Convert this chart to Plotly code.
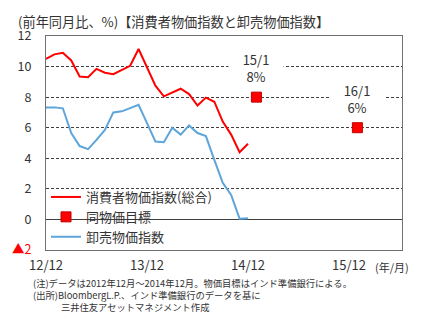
import plotly.graph_objects as go

# months since Dec 2012
months = list(range(0, 25))
cpi = [10.5, 10.8, 10.9, 10.4, 9.35, 9.3, 9.85, 9.6, 9.5, 9.8, 10.05, 11.15,
       10.0, 8.75, 8.05, 8.3, 8.55, 8.2, 7.45, 7.97, 7.7, 6.4, 5.55, 4.4, 4.95]
wpi = [7.33, 7.33, 7.27, 5.65, 4.8, 4.6, 5.2, 5.85, 7.0, 7.07, 7.28, 7.5,
       6.3, 5.1, 5.05, 6.0, 5.55, 6.15, 5.65, 5.45, 3.9, 2.4, 1.6, 0.05, 0.08]
target_x = [25, 37]
target_y = [8, 6]
target_labels = ["15/1<br>8%", "16/1<br>6%"]
xtick_vals = [0, 12, 24, 36]
xtick_text = ["12/12", "13/12", "14/12", "15/12"]
ytick_vals = [-2, 0, 2, 4, 6, 8, 10, 12]
ytick_text = ['<span style="color:#FF0000">▲2</span>', "0", "2", "4", "6", "8", "10", "12"]

FONT = "Noto Sans CJK JP"
W, H = 422, 324
L, R, T, B = 44, 20, 36, 74
PW, PH = W - L - R, H - T - B


def px(x):
    return (x - L) / PW


def py(y):
    return (H - B - y) / PH


fig = go.Figure()
fig.add_trace(go.Scatter(x=months, y=cpi, mode="lines", name="消費者物価指数(総合)",
                         line=dict(color="#FF0000", width=2)))
fig.add_trace(go.Scatter(x=target_x, y=target_y, mode="markers", name="同物価目標",
                         marker=dict(symbol="square", size=10, color="#FF0000",
                                     line=dict(color="#C00000", width=1))))
fig.add_trace(go.Scatter(x=months, y=wpi, mode="lines", name="卸売物価指数",
                         line=dict(color="#5DA5DA", width=2)))

# white legend background covering gridlines
fig.add_shape(type="rect", xref="paper", yref="paper", x0=0, x1=px(217),
              y0=0, y1=py(170), fillcolor="white", line=dict(width=0), layer="between")

# target annotations
for xv, yv, txt in zip(target_x, target_y, target_labels):
    fig.add_annotation(x=xv, y=yv + 1.9, xref="x", yref="y", text=txt, showarrow=False,
                       font=dict(family=FONT, size=13, color="#333333"),
                       bgcolor="white", width=52, height=32, align="center")

# title
fig.add_annotation(x=px(14), y=1 + 15 / PH, xref="paper", yref="paper",
                   text="(前年同月比、%)【消費者物価指数と卸売物価指数】",
                   showarrow=False, xanchor="left", yanchor="middle",
                   font=dict(family=FONT, size=13.2, color="#333333"))
# unit label
fig.add_annotation(x=px(392), y=py(267), xref="paper", yref="paper", text="(年/月)",
                   showarrow=False, xanchor="center", yanchor="middle",
                   font=dict(family=FONT, size=11, color="#333333"))
notes = ("(注)データは2012年12月～2014年12月。物価目標はインド準備銀行による。<br>"
         "(出所)BloombergL.P.、インド準備銀行のデータを基に<br>"
         "　　　三井住友アセットマネジメント作成")
fig.add_annotation(x=px(29), y=py(294.5), xref="paper", yref="paper", text=notes,
                   showarrow=False, xanchor="left", yanchor="middle", align="left",
                   font=dict(family=FONT, size=9.3, color="#333333"))

fig.update_layout(
    width=W, height=H, margin=dict(l=L, r=R, t=T, b=B),
    paper_bgcolor="white", plot_bgcolor="white",
    font=dict(family=FONT, size=12, color="#333333"),
    showlegend=True,
    legend=dict(x=px(44), y=py(182), xanchor="left", yanchor="top",
                bgcolor="rgba(0,0,0,0)", font=dict(family=FONT, size=13, color="#333333"),
                tracegroupgap=0),
    xaxis=dict(range=[0, 42.3], tickvals=xtick_vals, ticktext=xtick_text,
               showgrid=False, zeroline=False, showline=True, mirror=True,
               linecolor="#707070", linewidth=1, ticks="", ticklabelstandoff=3,
               tickfont=dict(family=FONT, size=13, color="#333333")),
    yaxis=dict(range=[-2, 12], tickvals=ytick_vals, ticktext=ytick_text,
               showgrid=True, gridcolor="#404040", griddash="3px,2px", gridwidth=1,
               zeroline=True, zerolinecolor="#404040", zerolinewidth=1,
               showline=True, mirror=True, linecolor="#707070", linewidth=1, ticks="",
               ticklabelstandoff=11,
               tickfont=dict(family=FONT, size=12.5, color="#333333")),
)

fig.write_html("out.html")
